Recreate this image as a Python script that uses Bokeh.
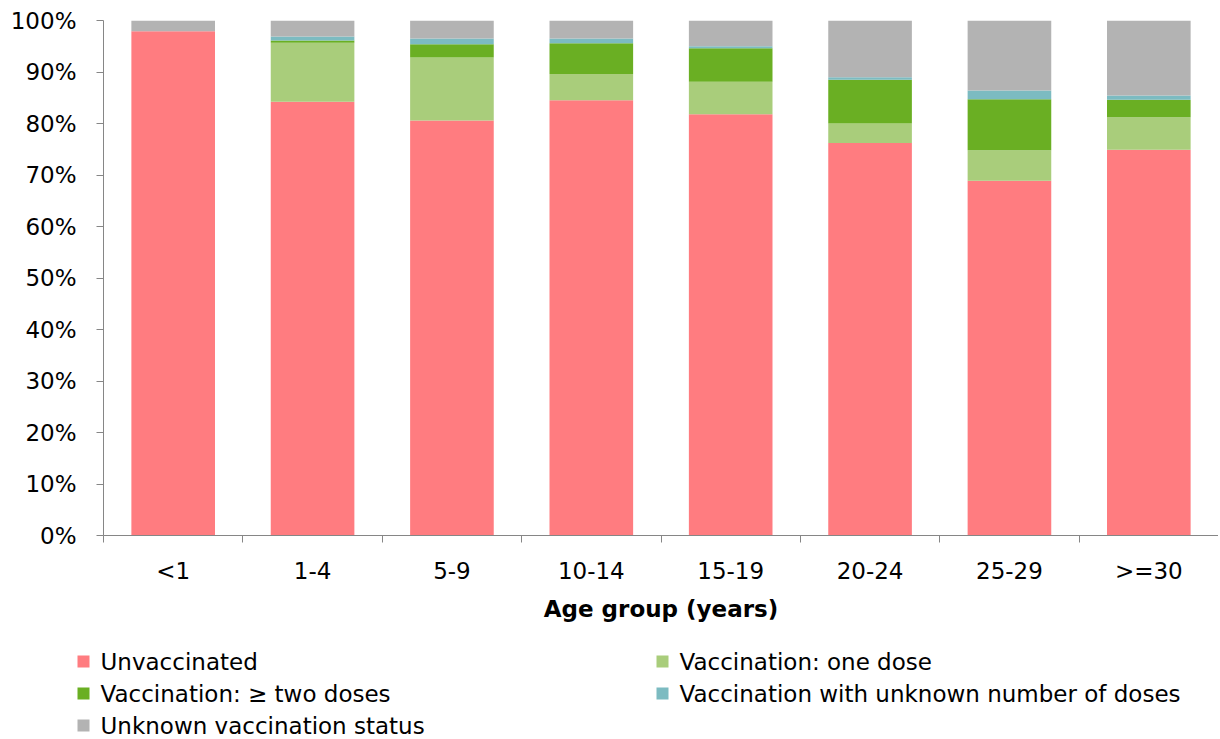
from bokeh.plotting import figure
from bokeh.models import ColumnDataSource, FixedTicker, PrintfTickFormatter, Range1d
from bokeh.layouts import column
from bokeh.embed import file_html
from bokeh.resources import INLINE
from bokeh.core.properties import value

# ---------------- data ----------------
age_groups = ["<1", "1-4", "5-9", "10-14", "15-19", "20-24", "25-29", ">=30"]
unvaccinated = [97.9, 84.2, 80.6, 84.5, 81.8, 76.2, 68.9, 74.9]
one_dose = [0.0, 11.5, 12.2, 5.1, 6.3, 3.8, 5.9, 6.3]
two_doses = [0.0, 0.4, 2.6, 6.0, 6.5, 8.5, 9.9, 3.4]
unknown_doses = [0.0, 0.8, 1.1, 0.9, 0.4, 0.5, 1.7, 0.85]
unknown_status = [2.1, 3.1, 3.5, 3.5, 5.0, 11.0, 13.6, 14.55]

series_names = ["Unvaccinated", "Vaccination: one dose", "Vaccination: \u2265 two doses",
                "Vaccination with unknown number of doses", "Unknown vaccination status"]
series_colors = ["#FF7C80", "#A9CD7B", "#6AAF23", "#7CBBC1", "#B3B3B3"]
y_ticks = [0, 10, 20, 30, 40, 50, 60, 70, 80, 90, 100]

FONT = "DejaVu Sans"
FS = "23px"

xs = [i + 1 for i in range(len(age_groups))]
keys = ["u", "one", "two", "unk", "stat"]
source = ColumnDataSource(dict(x=xs, u=unvaccinated, one=one_dose, two=two_doses,
                               unk=unknown_doses, stat=unknown_status))

W = 1218
p = figure(width=W, height=630, output_backend="svg", toolbar_location=None,
           x_range=Range1d(0.5, len(age_groups) + 0.5), y_range=Range1d(0, 100))
p.min_border_left = 103
p.min_border_top = 20
p.min_border_right = 0
p.min_border_bottom = 95
p.outline_line_color = None
p.grid.visible = False

p.vbar_stack(keys, x="x", width=0.6, color=series_colors, line_color=None, source=source)

# x axis: labels at category centres, tick marks at boundaries
xa = p.xaxis[0]
xa.ticker = FixedTicker(ticks=xs, minor_ticks=[i + 0.5 for i in range(len(age_groups) + 1)])
xa.major_label_overrides = {x: lab for x, lab in zip(xs, age_groups)}
xa.major_tick_out = 0
xa.major_tick_in = 0
xa.minor_tick_out = 7
xa.minor_tick_in = 0
xa.axis_line_color = "#868686"
xa.minor_tick_line_color = "#868686"
xa.major_label_text_font = FONT
xa.major_label_text_font_size = FS
xa.major_label_text_color = "#000000"
xa.major_label_standoff = 15
xa.axis_label = "Age group (years)"
xa.axis_label_text_font = FONT
xa.axis_label_text_font_size = FS
xa.axis_label_text_font_style = "bold"
xa.axis_label_text_color = "#000000"
xa.axis_label_standoff = 9

ya = p.yaxis[0]
ya.ticker = FixedTicker(ticks=y_ticks, minor_ticks=[])
ya.formatter = PrintfTickFormatter(format="%d%%")
ya.major_tick_out = 7
ya.major_tick_in = 0
ya.minor_tick_out = 0
ya.axis_line_color = "#868686"
ya.major_tick_line_color = "#868686"
ya.major_label_text_font = FONT
ya.major_label_text_font_size = FS
ya.major_label_text_color = "#000000"
ya.major_label_standoff = 20

# ---------------- legend figure ----------------
LH = 107
lg = figure(width=W, height=LH, output_backend="svg", toolbar_location=None,
            x_range=Range1d(0, W), y_range=Range1d(LH, 0))
lg.min_border = 0
lg.min_border_left = 0
lg.min_border_right = 0
lg.min_border_top = 0
lg.min_border_bottom = 0
lg.axis.visible = False
lg.grid.visible = False
lg.outline_line_color = None

for fig in (p, lg):
    if "frame_align" in fig.properties():
        fig.frame_align = False

col_x = [83, 662]
row_y = [31, 63, 95]
sq_x = [col_x[i % 2] for i in range(len(series_names))]
sq_y = [row_y[i // 2] for i in range(len(series_names))]
lsrc = ColumnDataSource(dict(x=sq_x, y=sq_y, tx=[v + 17 for v in sq_x], name=series_names,
                             color=series_colors))
lg.rect(x="x", y="y", width=12, height=12, color="color", line_color=None, source=lsrc)
lg.text(x="tx", y="y", text="name", text_baseline="middle", text_align="left",
        text_font=value(FONT), text_font_size=FS, text_color="#000000", source=lsrc)

layout = column(p, lg, spacing=0)
open("out.html", "w").write(file_html(layout, INLINE))
